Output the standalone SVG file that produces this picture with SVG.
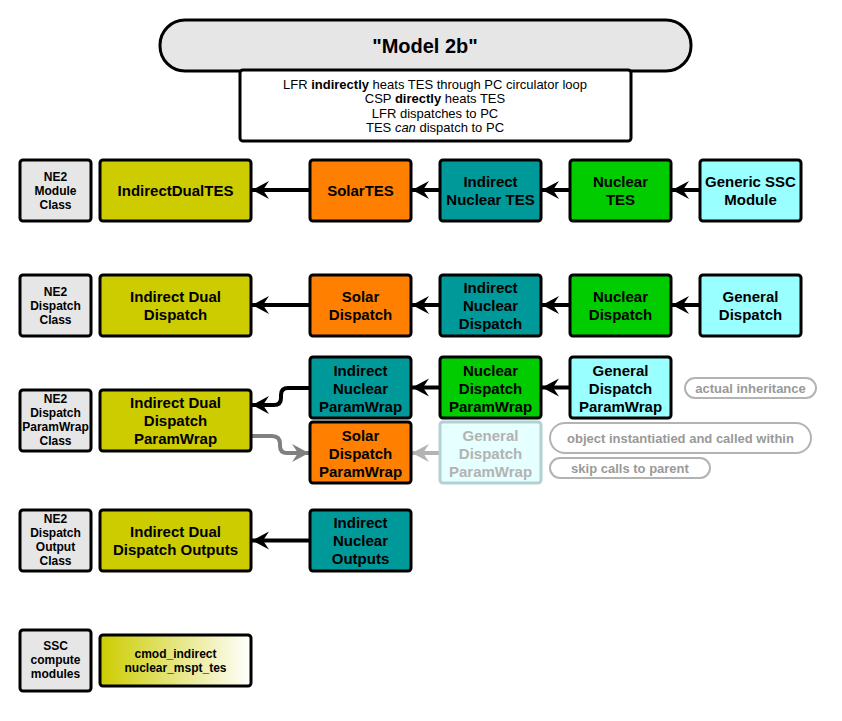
<svg xmlns="http://www.w3.org/2000/svg" width="842" height="721" viewBox="0 0 842 721">
<style>
.n{stroke:#000;stroke-width:3}
.t{font-family:"Liberation Sans",Arial,sans-serif;font-weight:bold;font-size:15px;text-anchor:middle;fill:#000}
.s{font-family:"Liberation Sans",Arial,sans-serif;font-weight:bold;font-size:12px;text-anchor:middle;fill:#000}
.d{font-family:"Liberation Sans",Arial,sans-serif;font-size:13px;text-anchor:middle;fill:#000}
.lg{font-family:"Liberation Sans",Arial,sans-serif;font-weight:bold;font-size:13px;text-anchor:middle;fill:#999}
.gray{fill:#e6e6e6}.yel{fill:#cccc00}.org{fill:#ff8000}.teal{fill:#009999}.grn{fill:#00cc00}.cyan{fill:#99ffff}
.c{fill:none;stroke:#000;stroke-width:4}
</style>
<defs>
<marker id="ab" markerUnits="userSpaceOnUse" markerWidth="20" markerHeight="20" viewBox="0 0 20 20" refX="18" refY="10" orient="auto">
<path d="M1,1 L18,10 L1,19 L7,10 Z" fill="#000"/>
</marker>
<marker id="ag" markerUnits="userSpaceOnUse" markerWidth="20" markerHeight="20" viewBox="0 0 20 20" refX="18" refY="10" orient="auto">
<path d="M1,1 L18,10 L1,19 L7,10 Z" fill="#808080"/>
</marker>
<marker id="al" markerUnits="userSpaceOnUse" markerWidth="20" markerHeight="20" viewBox="0 0 20 20" refX="18" refY="10" orient="auto">
<path d="M1,1 L18,10 L1,19 L7,10 Z" fill="#b3b3b3"/>
</marker>
<linearGradient id="yg" x1="0" y1="0" x2="1" y2="0">
<stop offset="0" stop-color="#cccc00"/>
<stop offset="1" stop-color="#ffffff"/>
</linearGradient>
</defs>

<g id="title">
<rect x="160" y="20" width="531" height="51" rx="25" class="n gray"/>
<text x="425" y="53" class="t" style="font-size:20px">"Model 2b"</text>
</g>
<g id="desc">
<rect x="240" y="70" width="391" height="71" rx="3" class="n" fill="#fff"/>
<text x="435" y="88.5" class="d">LFR <tspan font-weight="bold">indirectly</tspan> heats TES through PC circulator loop</text>
<text x="435" y="103" class="d">CSP <tspan font-weight="bold">directly</tspan> heats TES</text>
<text x="435" y="117.5" class="d">LFR dispatches to PC</text>
<text x="435" y="132" class="d">TES <tspan font-style="italic">can</tspan> dispatch to PC</text>
</g>

<g id="connectors">
<path d="M310,190 H252" class="c" marker-end="url(#ab)"/>
<path d="M440,190 H412" class="c" marker-end="url(#ab)"/>
<path d="M570,190 H542" class="c" marker-end="url(#ab)"/>
<path d="M700,190 H672" class="c" marker-end="url(#ab)"/>
<path d="M310,305 H252" class="c" marker-end="url(#ab)"/>
<path d="M440,305 H412" class="c" marker-end="url(#ab)"/>
<path d="M570,305 H542" class="c" marker-end="url(#ab)"/>
<path d="M700,305 H672" class="c" marker-end="url(#ab)"/>
<path d="M440,387.5 H412" class="c" marker-end="url(#ab)"/>
<path d="M570,387.5 H542" class="c" marker-end="url(#ab)"/>
<path d="M310,388 H288 Q281,388 281,395 V398 Q281,405 274,405 H252" class="c" marker-end="url(#ab)"/>
<path d="M251,436 H272 Q280,436 280,444 V446 Q280,453 287,453 H309" class="c" style="stroke:#808080" marker-end="url(#ag)"/>
<path d="M440,453 H412" class="c" style="stroke:#b3b3b3" marker-end="url(#al)"/>
<path d="M310,540.5 H252" class="c" marker-end="url(#ab)"/>
</g>

<g id="ne2-module-class"><rect x="20" y="160" width="71" height="61" rx="3" class="n gray"/>
<text x="55.5" class="s"><tspan x="55.5" y="180.5">NE2</tspan><tspan x="55.5" y="194.5">Module</tspan><tspan x="55.5" y="209">Class</tspan></text></g>
<g id="ne2-dispatch-class"><rect x="20" y="275" width="71" height="61" rx="3" class="n gray"/>
<text class="s"><tspan x="55.5" y="296">NE2</tspan><tspan x="55.5" y="310">Dispatch</tspan><tspan x="55.5" y="324">Class</tspan></text></g>
<g id="ne2-paramwrap-class"><rect x="20" y="390" width="71" height="61" rx="3" class="n gray"/>
<text class="s"><tspan x="55.5" y="403">NE2</tspan><tspan x="55.5" y="417">Dispatch</tspan><tspan x="55.5" y="431">ParamWrap</tspan><tspan x="55.5" y="445">Class</tspan></text></g>
<g id="ne2-output-class"><rect x="20" y="510" width="71" height="61" rx="3" class="n gray"/>
<text class="s"><tspan x="55.5" y="523">NE2</tspan><tspan x="55.5" y="537">Dispatch</tspan><tspan x="55.5" y="551">Output</tspan><tspan x="55.5" y="565">Class</tspan></text></g>
<g id="ssc-compute"><rect x="20" y="630" width="71" height="61" rx="3" class="n gray"/>
<text class="s"><tspan x="55.5" y="650">SSC</tspan><tspan x="55.5" y="664">compute</tspan><tspan x="55.5" y="678">modules</tspan></text></g>

<g id="indirect-dual-tes"><rect x="100" y="160" width="151" height="61" rx="3" class="n yel"/>
<text x="175.5" y="196" class="t">IndirectDualTES</text></g>
<g id="indirect-dual-dispatch"><rect x="100" y="275" width="151" height="61" rx="3" class="n yel"/>
<text class="t"><tspan x="175.5" y="302">Indirect Dual</tspan><tspan x="175.5" y="320">Dispatch</tspan></text></g>
<g id="indirect-dual-paramwrap"><rect x="100" y="390" width="151" height="61" rx="3" class="n yel"/>
<text class="t"><tspan x="175.5" y="408">Indirect Dual</tspan><tspan x="175.5" y="426">Dispatch</tspan><tspan x="175.5" y="444">ParamWrap</tspan></text></g>
<g id="indirect-dual-outputs"><rect x="100" y="510" width="151" height="61" rx="3" class="n yel"/>
<text class="t"><tspan x="175.5" y="537">Indirect Dual</tspan><tspan x="175.5" y="555">Dispatch Outputs</tspan></text></g>
<g id="cmod"><rect x="100" y="635" width="151" height="51" rx="3" class="n" fill="url(#yg)"/>
<text class="s"><tspan x="175.5" y="658">cmod_indirect</tspan><tspan x="175.5" y="672">nuclear_mspt_tes</tspan></text></g>

<g id="solar-tes"><rect x="310" y="160" width="101" height="61" rx="3" class="n org"/>
<text x="360.5" y="196" class="t">SolarTES</text></g>
<g id="solar-dispatch"><rect x="310" y="275" width="101" height="61" rx="3" class="n org"/>
<text class="t"><tspan x="360.5" y="302">Solar</tspan><tspan x="360.5" y="320">Dispatch</tspan></text></g>
<g id="indirect-nuclear-paramwrap"><rect x="310" y="357" width="101" height="61" rx="3" class="n teal"/>
<text class="t"><tspan x="360.5" y="376">Indirect</tspan><tspan x="360.5" y="394">Nuclear</tspan><tspan x="360.5" y="412">ParamWrap</tspan></text></g>
<g id="solar-dispatch-paramwrap"><rect x="310" y="422" width="101" height="61" rx="3" class="n org"/>
<text class="t"><tspan x="360.5" y="441">Solar</tspan><tspan x="360.5" y="459">Dispatch</tspan><tspan x="360.5" y="477">ParamWrap</tspan></text></g>
<g id="indirect-nuclear-outputs"><rect x="310" y="510" width="101" height="61" rx="3" class="n teal"/>
<text class="t"><tspan x="360.5" y="528">Indirect</tspan><tspan x="360.5" y="546">Nuclear</tspan><tspan x="360.5" y="564">Outputs</tspan></text></g>

<g id="indirect-nuclear-tes"><rect x="440" y="160" width="101" height="61" rx="3" class="n teal"/>
<text class="t"><tspan x="490.5" y="187">Indirect</tspan><tspan x="490.5" y="205">Nuclear TES</tspan></text></g>
<g id="indirect-nuclear-dispatch"><rect x="440" y="275" width="101" height="61" rx="3" class="n teal"/>
<text class="t"><tspan x="490.5" y="293">Indirect</tspan><tspan x="490.5" y="311">Nuclear</tspan><tspan x="490.5" y="329">Dispatch</tspan></text></g>
<g id="nuclear-dispatch-paramwrap"><rect x="440" y="357" width="101" height="61" rx="3" class="n grn"/>
<text class="t"><tspan x="490.5" y="376">Nuclear</tspan><tspan x="490.5" y="394">Dispatch</tspan><tspan x="490.5" y="412">ParamWrap</tspan></text></g>
<g id="general-dispatch-paramwrap-ghost"><rect x="440" y="422" width="101" height="61" rx="3" fill="#e6ffff" stroke="#b3d1d1" stroke-width="3"/>
<text class="t" style="fill:#b3b3b3"><tspan x="490.5" y="441">General</tspan><tspan x="490.5" y="459">Dispatch</tspan><tspan x="490.5" y="477">ParamWrap</tspan></text></g>

<g id="nuclear-tes"><rect x="570" y="160" width="101" height="61" rx="3" class="n grn"/>
<text class="t"><tspan x="620.5" y="187">Nuclear</tspan><tspan x="620.5" y="205">TES</tspan></text></g>
<g id="nuclear-dispatch"><rect x="570" y="275" width="101" height="61" rx="3" class="n grn"/>
<text class="t"><tspan x="620.5" y="302">Nuclear</tspan><tspan x="620.5" y="320">Dispatch</tspan></text></g>
<g id="general-dispatch-paramwrap"><rect x="570" y="357" width="101" height="61" rx="3" class="n cyan"/>
<text class="t"><tspan x="620.5" y="376">General</tspan><tspan x="620.5" y="394">Dispatch</tspan><tspan x="620.5" y="412">ParamWrap</tspan></text></g>

<g id="generic-ssc-module"><rect x="700" y="160" width="101" height="61" rx="3" class="n cyan"/>
<text class="t"><tspan x="750.5" y="187">Generic SSC</tspan><tspan x="750.5" y="205">Module</tspan></text></g>
<g id="general-dispatch"><rect x="700" y="275" width="101" height="61" rx="3" class="n cyan"/>
<text class="t"><tspan x="750.5" y="302">General</tspan><tspan x="750.5" y="320">Dispatch</tspan></text></g>

<g id="legend-inheritance"><rect x="685" y="378" width="131" height="20" rx="10" fill="#fff" stroke="#b3b3b3" stroke-width="2"/>
<text x="750.5" y="392.5" class="lg">actual inheritance</text></g>
<g id="legend-instantiated"><rect x="550" y="423" width="261" height="30" rx="15" fill="#fff" stroke="#b3b3b3" stroke-width="2"/>
<text x="680.5" y="442.5" class="lg">object instantiatied and called within</text></g>
<g id="legend-skip"><rect x="550" y="458" width="160" height="20" rx="10" fill="#fff" stroke="#b3b3b3" stroke-width="2"/>
<text x="630" y="472.5" class="lg">skip calls to parent</text></g>
</svg>
